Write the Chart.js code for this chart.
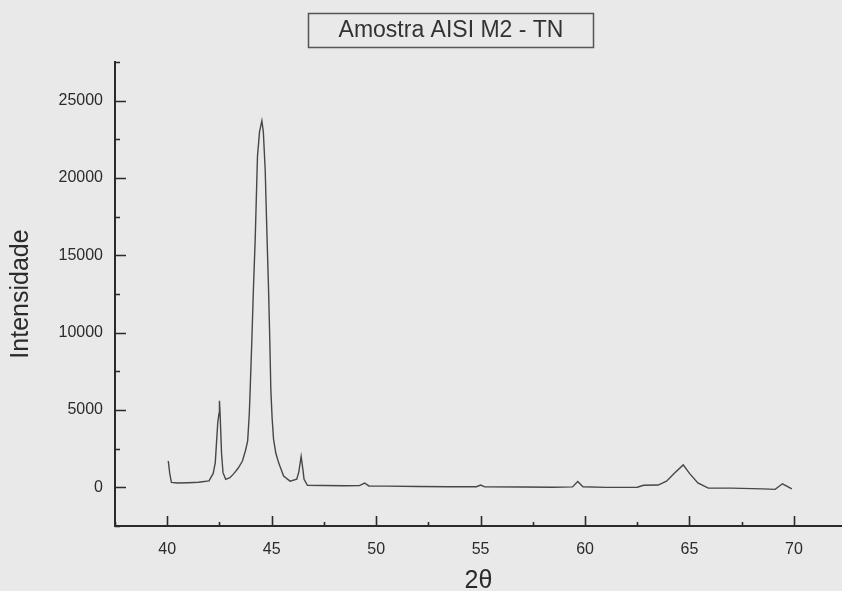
<!DOCTYPE html>
<html lang="pt">
<head>
    <meta charset="UTF-8">
    <title>Amostra AISI M2 - TN</title>
    <style>
        html, body {
            margin: 0;
            padding: 0;
            background-color: #e9e9e9;
        }
        #wrap {
            width: 842px;
            height: 591px;
        }
    </style>
</head>
<body>
    <div id="wrap">
        <canvas id="xrd-chart" width="842" height="591"></canvas>
    </div>

    <script src="https://cdn.jsdelivr.net/npm/chart.js"></script>
    <script>
        // Difratograma
        const twoTheta = [
            40.05, 40.12, 40.2, 40.5, 41.0, 41.5, 42.0, 42.2, 42.3, 42.42, 42.48, 42.5, 42.53, 42.6, 42.67, 42.8,
            43.0, 43.2, 43.4, 43.6, 43.75, 43.85, 43.93, 43.97, 44.05, 44.13, 44.21, 44.32, 44.42, 44.53,
            44.6, 44.69, 44.77, 44.85, 44.91, 44.96, 45.02, 45.09, 45.2, 45.33, 45.57, 45.88, 46.2, 46.3,
            46.41, 46.5, 46.55, 46.71, 47.5, 48.5, 49.2, 49.45, 49.65, 50.5, 52.0, 53.5, 54.8, 55.0, 55.2,
            57.0, 58.5, 59.4, 59.65, 59.9, 61.0, 62.5, 62.8, 63.5, 63.9, 64.3, 64.7, 65.0, 65.4, 65.9,
            67.0, 68.5, 69.1, 69.45, 69.9
        ];
        const intensity = [
            1700, 900, 320, 280, 300, 330, 420, 900, 1600, 4200, 4800, 5600, 4800, 2200, 950, 520,
            620, 900, 1250, 1700, 2400, 3000, 4800, 6300, 9500, 13000, 16000, 21400, 23000, 23700,
            23000, 20500, 16500, 12800, 9500, 6300, 4500, 3100, 2200, 1600, 730, 400, 520, 1000,
            2000, 1100, 520, 130, 120, 100, 110, 280, 90, 80, 50, 40, 40, 150, 30,
            20, 10, 30, 370, 40, 0, 10, 130, 150, 400, 950, 1450, 900, 280, -50,
            -50, -100, -130, 230, -100
        ];

        const xTicks = [37.5, 40, 42.5, 45, 47.5, 50, 52.5, 55, 57.5, 60, 62.5, 65, 67.5, 70];
        const xLabels = ['40', '45', '50', '55', '60', '65', '70'];
        const yTicks = [-2500, 0, 2500, 5000, 7500, 10000, 12500, 15000, 17500, 20000, 22500, 25000, 27500];
        const yLabels = ['0', '5000', '10000', '15000', '20000', '25000'];

        const chartTitle = 'Amostra AISI M2 - TN';
        const inkColor = '#2b2b2b';
        const fontFamily = '"Liberation Sans", Arial, sans-serif';

        // inward tick marks + boxed title
        const decorations = {
            id: 'decorations',
            afterDraw(chart) {
                const ctx = chart.ctx;
                const xs = chart.scales.x;
                const ys = chart.scales.y;
                const area = chart.chartArea;

                ctx.save();
                ctx.strokeStyle = inkColor;
                ctx.lineWidth = 1.6;
                ctx.beginPath();
                xTicks.forEach(v => {
                    const px = Math.round(xs.getPixelForValue(v)) + 0.5;
                    const len = xLabels.includes(String(v)) ? 10 : 4;
                    ctx.moveTo(px, area.bottom);
                    ctx.lineTo(px, area.bottom - len);
                });
                yTicks.forEach(v => {
                    const py = Math.round(ys.getPixelForValue(v)) + 0.5;
                    const len = yLabels.includes(String(v)) ? 11 : 5;
                    ctx.moveTo(area.left, py);
                    ctx.lineTo(area.left + len, py);
                });
                ctx.stroke();

                // title in a box
                ctx.font = '23px ' + fontFamily;
                ctx.fillStyle = '#333';
                ctx.textAlign = 'center';
                ctx.textBaseline = 'middle';
                ctx.fillText(chartTitle, 451, 31);
                ctx.strokeStyle = '#555';
                ctx.lineWidth = 1.5;
                ctx.strokeRect(308.5, 13.5, 285, 34);
                ctx.restore();
            }
        };

        const ctx = document.getElementById('xrd-chart').getContext('2d');
        new Chart(ctx, {
            type: 'line',
            data: {
                datasets: [{
                    label: chartTitle,
                    data: twoTheta.map((t, i) => ({ x: t, y: intensity[i] })),
                    borderColor: '#474747',
                    borderWidth: 1.4,
                    pointRadius: 0,
                    tension: 0,
                    fill: false
                }]
            },
            options: {
                responsive: false,
                animation: false,
                layout: {
                    padding: { top: 62, right: 0, bottom: 0, left: 0 }
                },
                plugins: {
                    legend: { display: false },
                    title: { display: false },
                    tooltip: { enabled: false }
                },
                scales: {
                    x: {
                        type: 'linear',
                        min: 37.5,
                        max: 72.3,
                        grid: { display: false },
                        border: { display: true, color: inkColor, width: 2 },
                        afterBuildTicks: scale => {
                            scale.ticks = xTicks.map(v => ({ value: v }));
                        },
                        afterFit: scale => { scale.height = 65; },
                        ticks: {
                            autoSkip: false,
                            maxRotation: 0,
                            padding: 6,
                            color: inkColor,
                            font: { family: fontFamily, size: 16 },
                            callback: v => xLabels.includes(String(v)) ? String(v) : ''
                        },
                        title: {
                            display: true,
                            text: '2θ',
                            color: inkColor,
                            font: { family: fontFamily, size: 25, lineHeight: 0.8 },
                            padding: { top: 0, bottom: 0 }
                        }
                    },
                    y: {
                        type: 'linear',
                        min: -2500,
                        max: 27500,
                        grid: { display: false },
                        border: { display: true, color: inkColor, width: 2 },
                        afterBuildTicks: scale => {
                            scale.ticks = yTicks.map(v => ({ value: v }));
                        },
                        afterFit: scale => { scale.width = 115; },
                        ticks: {
                            autoSkip: false,
                            padding: 4,
                            color: inkColor,
                            font: { family: fontFamily, size: 16 },
                            callback: v => yLabels.includes(String(v)) ? String(v) : ''
                        },
                        title: {
                            display: true,
                            text: 'Intensidade',
                            color: inkColor,
                            font: { family: fontFamily, size: 25 },
                            padding: { top: 6, bottom: 0 }
                        }
                    }
                }
            },
            plugins: [decorations]
        });
    </script>
</body>
</html>
